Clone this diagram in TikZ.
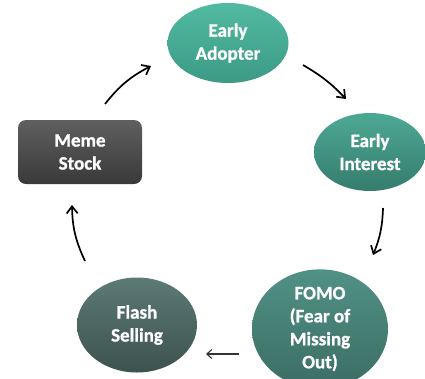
\documentclass[tikz,border=0pt]{standalone}
\usepackage{fontspec}
\setmainfont{Carlito}[BoldFeatures={FakeBold=1}]
\usetikzlibrary{shapes.geometric,arrows.meta}
\definecolor{eaT}{HTML}{52BAA1}
\definecolor{eaB}{HTML}{3C9A85}
\definecolor{eiT}{HTML}{4DA994}
\definecolor{eiB}{HTML}{357C6D}
\definecolor{foT}{HTML}{519185}
\definecolor{foB}{HTML}{3B6D64}
\definecolor{fsT}{HTML}{5C7A76}
\definecolor{fsB}{HTML}{3D524E}
\definecolor{msT}{HTML}{5E5F5E}
\definecolor{msB}{HTML}{383938}
\tikzset{
  lbl/.style={text=white, font=\fontsize{19}{23}\selectfont\bfseries, align=center, inner sep=0pt},
  oval/.style={lbl, ellipse},
  flow/.style={line width=1.7pt, -{Straight Barb[length=7pt,width=11pt]}},
  thinflow/.style={line width=1.1pt, draw=black!80, -{Straight Barb[length=5pt,width=9pt]}}
}
\begin{document}
\begin{tikzpicture}[x=1pt, y=-1pt]
\useasboundingbox (0,0) rectangle (425,378);
\fill[white] (0,0) rectangle (425,378);
\node[oval, minimum width=121pt, minimum height=80pt, top color=eaT, bottom color=eaB] (ea) at (228,43) {Early\\Adopter};
\node[oval, minimum width=112pt, minimum height=78pt, top color=eiT, bottom color=eiB] (ei) at (370,152) {Early\\Interest};
\node[oval, minimum width=136pt, minimum height=116pt, top color=foT, bottom color=foB] (fo) at (320,329) {FOMO\\(Fear of\\Missing\\Out)};
\node[oval, minimum width=120pt, minimum height=95pt, top color=fsT, bottom color=fsB] (fs) at (137,325) {Flash\\Selling};
\node[lbl, rectangle, rounded corners=8pt, minimum width=124pt, minimum height=64pt, top color=msT, bottom color=msB] (ms) at (80,152) {Meme\\Stock};
\coordinate (a1) at (105,104); \coordinate (a2) at (151,66);
\coordinate (b1) at (303,65); \coordinate (b2) at (346,99);
\coordinate (c1) at (383,208); \coordinate (c2) at (373,255);
\coordinate (d1) at (239,354); \coordinate (d2) at (206,354);
\coordinate (e1) at (85,261); \coordinate (e2) at (72,205);
\draw[flow] (a1) to[bend left=12] (a2);
\draw[flow] (b1) to[bend left=8] (b2);
\draw[flow] (c1) to[bend left=10] (c2);
\draw[thinflow] (d1) -- (d2);
\draw[flow] (e1) to[bend left=12] (e2);
\end{tikzpicture}
\end{document}
